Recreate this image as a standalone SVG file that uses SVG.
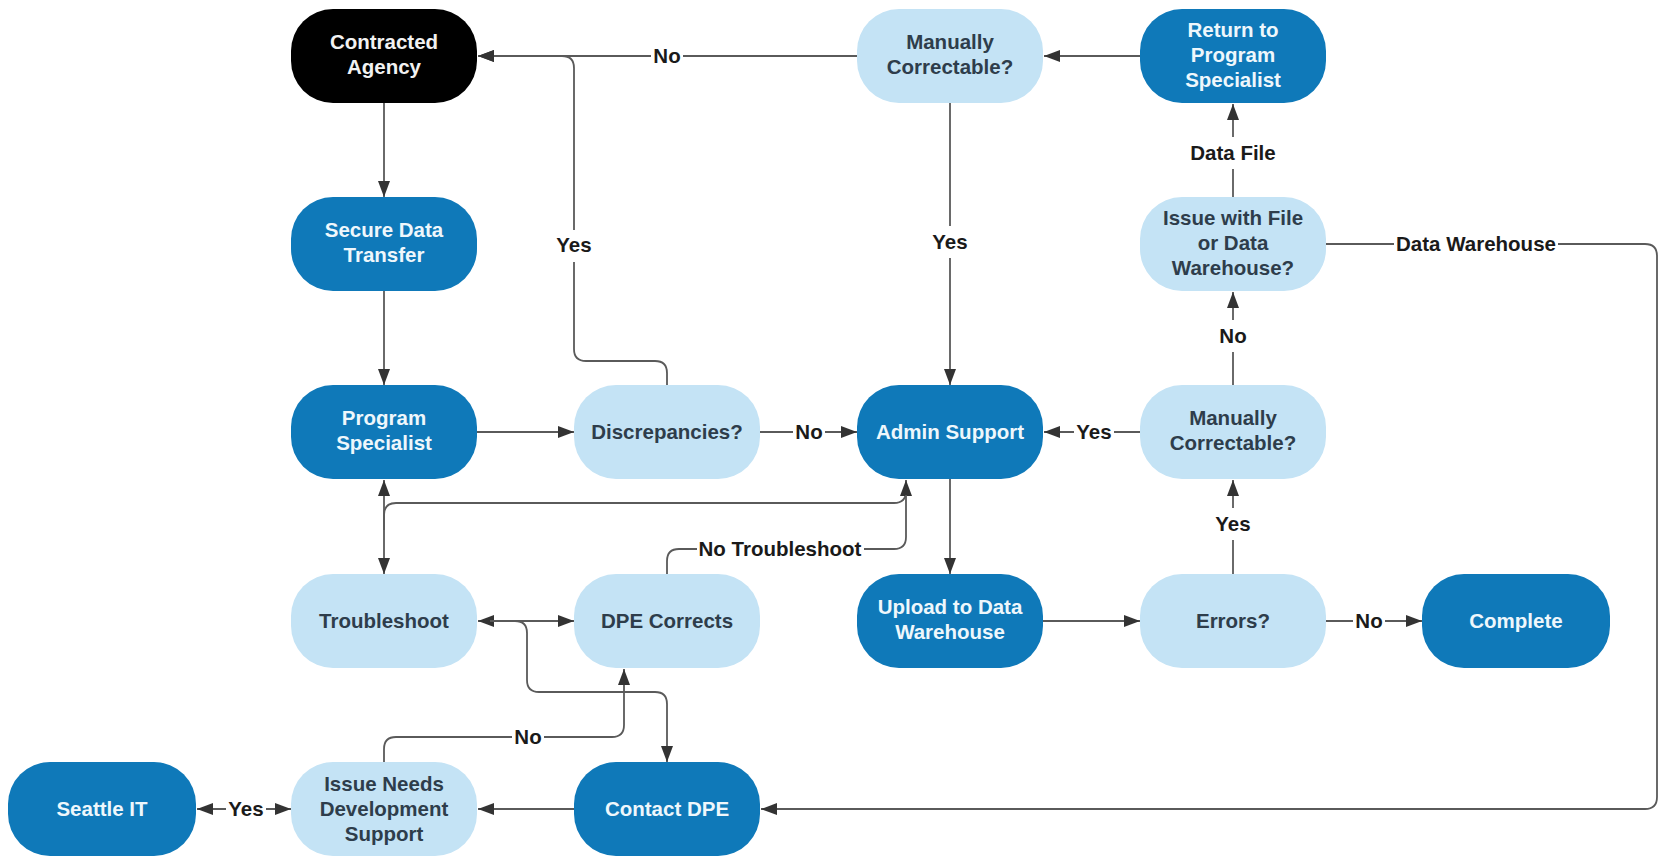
<svg xmlns="http://www.w3.org/2000/svg" width="1663" height="856" viewBox="0 0 1663 856">
<style>
.node rect{stroke:none}
.dark rect{fill:#0F79B9}
.light rect{fill:#C4E3F5}
.black rect{fill:#000}
.node text{font-family:"Liberation Sans",Arial,sans-serif;font-weight:bold;font-size:20.5px;text-anchor:middle}
.dark text{fill:#EEF7FC}
.black text{fill:#F2F2F2}
.light text{fill:#2E3D4B}
.edges path{fill:none;stroke:#5a5a5a;stroke-width:1.8}
.lbl rect{fill:#fff}
.lbl text{font-family:"Liberation Sans",Arial,sans-serif;font-weight:bold;font-size:20.5px;text-anchor:middle;fill:#1a1a1a}
</style>
<defs>
<marker id="arr" markerUnits="userSpaceOnUse" markerWidth="16" markerHeight="12" refX="16" refY="6" orient="auto-start-reverse">
<path d="M0,0 L16,6 L0,12 z" fill="#333"/>
</marker>
</defs>
<rect width="1663" height="856" fill="#fff"/>

<g class="edges" id="connectors">
<path d="M384,103 V197" marker-end="url(#arr)"/>
<path d="M384,291 V385" marker-end="url(#arr)"/>
<path d="M477,432 H574" marker-end="url(#arr)"/>
<path d="M760,432 H857" marker-end="url(#arr)"/>
<path d="M667,385 V373 Q667,361 655,361 H586 Q574,361 574,349 V68 Q574,56 562,56 H478" marker-end="url(#arr)"/>
<path d="M857,56 H478" marker-end="url(#arr)"/>
<path d="M1140,56 H1044" marker-end="url(#arr)"/>
<path d="M950,103 V385" marker-end="url(#arr)"/>
<path d="M950,479 V574" marker-end="url(#arr)"/>
<path d="M1043,621 H1140" marker-end="url(#arr)"/>
<path d="M1326,621 H1422" marker-end="url(#arr)"/>
<path d="M1233,574 V480" marker-end="url(#arr)"/>
<path d="M1140,432 H1044" marker-end="url(#arr)"/>
<path d="M1233,385 V292" marker-end="url(#arr)"/>
<path d="M1233,197 V104" marker-end="url(#arr)"/>
<path d="M1326,244 H1645 Q1657,244 1657,256 V797 Q1657,809 1645,809 H761" marker-end="url(#arr)"/>
<path d="M574,809 H478" marker-end="url(#arr)"/>
<path d="M197,809 H291" marker-start="url(#arr)" marker-end="url(#arr)"/>
<path d="M384,762 V749 Q384,737 396,737 H612 Q624,737 624,725 V669" marker-end="url(#arr)"/>
<path d="M478,621 H574" marker-start="url(#arr)" marker-end="url(#arr)"/>
<path d="M490,621 H515 Q527,621 527,633 V680 Q527,692 539,692 H655 Q667,692 667,704 V762" marker-end="url(#arr)"/>
<path d="M384,480 V574" marker-start="url(#arr)" marker-end="url(#arr)"/>
<path d="M384,530 V515 Q384,503 396,503 H894 Q906,503 906,491 V480" marker-end="url(#arr)"/>
<path d="M667,574 V561 Q667,549 679,549 H894 Q906,549 906,537 V495"/>
</g>

<g id="edge-labels">
<g class="lbl"><rect x="793" y="417" width="32" height="30"/><text x="809" y="439">No</text></g>
<g class="lbl"><rect x="554" y="230" width="40" height="32"/><text x="574" y="252">Yes</text></g>
<g class="lbl"><rect x="651" y="41" width="32" height="30"/><text x="667" y="63">No</text></g>
<g class="lbl"><rect x="930" y="226" width="40" height="32"/><text x="950" y="249">Yes</text></g>
<g class="lbl"><rect x="1353" y="606" width="32" height="30"/><text x="1369" y="628">No</text></g>
<g class="lbl"><rect x="1213" y="508" width="40" height="32"/><text x="1233" y="531">Yes</text></g>
<g class="lbl"><rect x="1074" y="417" width="40" height="30"/><text x="1094" y="439">Yes</text></g>
<g class="lbl"><rect x="1217" y="320" width="32" height="32"/><text x="1233" y="343">No</text></g>
<g class="lbl"><rect x="1189" y="137" width="88" height="32"/><text x="1233" y="160">Data File</text></g>
<g class="lbl"><rect x="1394" y="229" width="164" height="30"/><text x="1476" y="251">Data Warehouse</text></g>
<g class="lbl"><rect x="226" y="794" width="40" height="30"/><text x="246" y="816">Yes</text></g>
<g class="lbl"><rect x="512" y="722" width="32" height="30"/><text x="528" y="744">No</text></g>
<g class="lbl"><rect x="697" y="534" width="167" height="30"/><text x="780" y="556">No Troubleshoot</text></g>
</g>

<g id="n_contracted" class="node black"><rect x="291" y="9" width="186" height="94" rx="42"/><text x="384" y="48.5">Contracted</text><text x="384" y="73.5">Agency</text></g>
<g id="n_secure" class="node dark"><rect x="291" y="197" width="186" height="94" rx="42"/><text x="384" y="236.5">Secure Data</text><text x="384" y="261.5">Transfer</text></g>
<g id="n_program" class="node dark"><rect x="291" y="385" width="186" height="94" rx="42"/><text x="384" y="424.5">Program</text><text x="384" y="449.5">Specialist</text></g>
<g id="n_troubleshoot" class="node light"><rect x="291" y="574" width="186" height="94" rx="42"/><text x="384" y="628">Troubleshoot</text></g>
<g id="n_issue_dev" class="node light"><rect x="291" y="762" width="186" height="94" rx="42"/><text x="384" y="791">Issue Needs</text><text x="384" y="816">Development</text><text x="384" y="841">Support</text></g>
<g id="n_seattle" class="node dark"><rect x="8" y="762" width="188" height="94" rx="42"/><text x="102" y="816">Seattle IT</text></g>
<g id="n_discrepancies" class="node light"><rect x="574" y="385" width="186" height="94" rx="42"/><text x="667" y="439">Discrepancies?</text></g>
<g id="n_dpe_corrects" class="node light"><rect x="574" y="574" width="186" height="94" rx="42"/><text x="667" y="628">DPE Corrects</text></g>
<g id="n_contact_dpe" class="node dark"><rect x="574" y="762" width="186" height="94" rx="42"/><text x="667" y="816">Contact DPE</text></g>
<g id="n_manual1" class="node light"><rect x="857" y="9" width="186" height="94" rx="42"/><text x="950" y="48.5">Manually</text><text x="950" y="73.5">Correctable?</text></g>
<g id="n_admin" class="node dark"><rect x="857" y="385" width="186" height="94" rx="42"/><text x="950" y="439">Admin Support</text></g>
<g id="n_upload" class="node dark"><rect x="857" y="574" width="186" height="94" rx="42"/><text x="950" y="614">Upload to Data</text><text x="950" y="639">Warehouse</text></g>
<g id="n_return" class="node dark"><rect x="1140" y="9" width="186" height="94" rx="42"/><text x="1233" y="37">Return to</text><text x="1233" y="62">Program</text><text x="1233" y="87">Specialist</text></g>
<g id="n_issue_file" class="node light"><rect x="1140" y="197" width="186" height="94" rx="42"/><text x="1233" y="225">Issue with File</text><text x="1233" y="250">or Data</text><text x="1233" y="275">Warehouse?</text></g>
<g id="n_manual2" class="node light"><rect x="1140" y="385" width="186" height="94" rx="42"/><text x="1233" y="424.5">Manually</text><text x="1233" y="449.5">Correctable?</text></g>
<g id="n_errors" class="node light"><rect x="1140" y="574" width="186" height="94" rx="42"/><text x="1233" y="628">Errors?</text></g>
<g id="n_complete" class="node dark"><rect x="1422" y="574" width="188" height="94" rx="42"/><text x="1516" y="628">Complete</text></g>
</svg>
